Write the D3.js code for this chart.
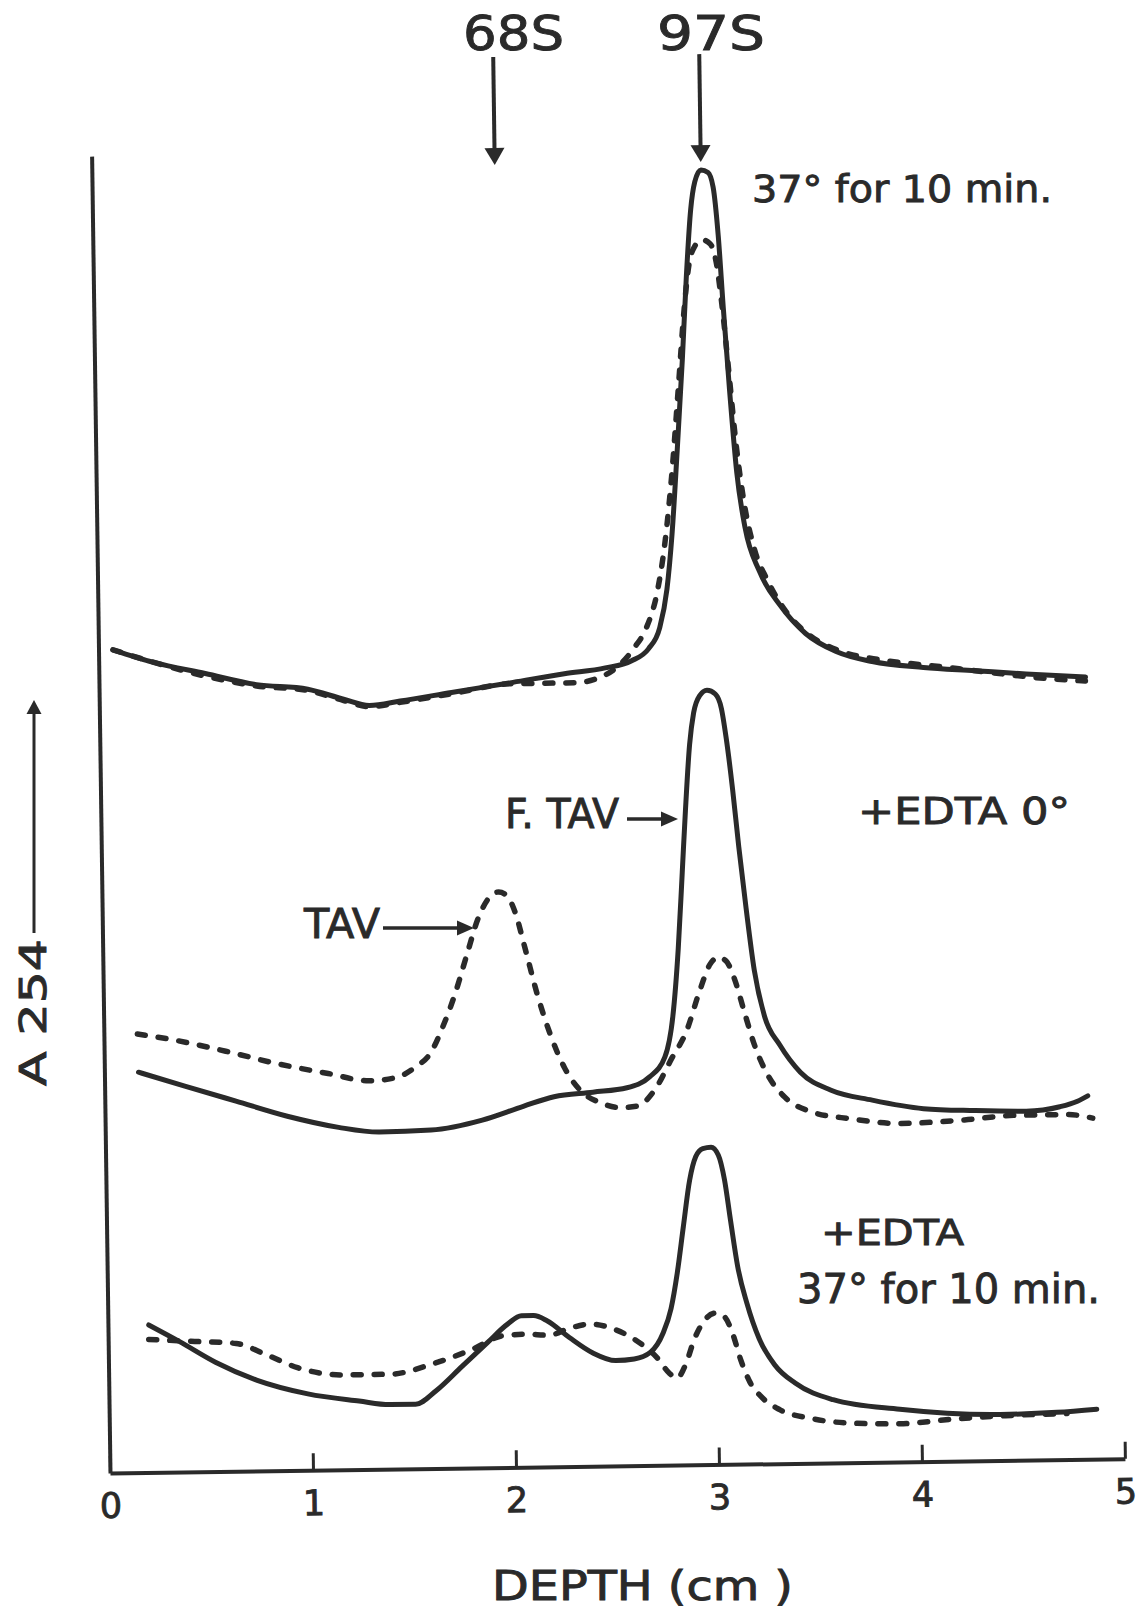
<!DOCTYPE html>
<html>
<head>
<meta charset="utf-8">
<script src="https://cdn.jsdelivr.net/npm/d3@7"></script>
<style>
  body { margin: 0; background: #fff; }
  text { font-family: "DejaVu Sans", sans-serif; fill: #2a2a2a; stroke: #2a2a2a; stroke-width: 0.9px; }
</style>
</head>
<body>
<svg id="chart" width="1145" height="1609"></svg>
<script>
// Sucrose-gradient profiles, A254 against depth (cm); values are [depth, absorbance (arbitrary units)]
const depthTicks = [0, 1, 2, 3, 4, 5];

// 37° for 10 min.
const top37Solid = [
  [0.071,62.5],[0.272,61.5],[0.524,60.6],[0.776,59.7],[1.028,59.3],[1.204,58.5],[1.331,58.0],
  [1.482,58.3],[1.736,58.9],[2.039,59.6],[2.293,60.2],[2.495,60.6],[2.623,61.1],[2.709,62.0],
  [2.766,63.6],[2.804,66.5],[2.833,70.7],[2.864,77.0],[2.896,84.0],[2.921,90.2],[2.947,95.3],
  [2.969,97.4],[3.000,98.3],[3.035,98.1],[3.059,97.0],[3.081,93.3],[3.101,87.8],[3.126,81.6],
  [3.156,75.3],[3.193,71.1],[3.260,67.8],[3.359,65.2],[3.484,63.0],[3.633,61.6],[3.810,60.8],
  [4.062,60.3],[4.315,60.0],[4.567,59.7],[4.860,59.4]
];
const top37Dashed = [
  [0.071,62.5],[0.272,61.5],[0.524,60.4],[0.776,59.6],[1.028,59.2],[1.204,58.4],[1.331,57.9],
  [1.482,58.2],[1.736,58.8],[2.039,59.5],[2.191,59.5],[2.343,59.5],[2.470,59.9],[2.557,60.7],
  [2.639,62.1],[2.700,63.6],[2.753,66.1],[2.797,70.0],[2.837,75.4],[2.873,81.6],[2.909,87.9],
  [2.938,91.4],[2.964,92.5],[3.000,93.0],[3.040,92.7],[3.069,91.3],[3.096,87.8],[3.123,83.1],
  [3.153,77.7],[3.190,73.0],[3.237,69.5],[3.299,67.1],[3.384,64.8],[3.509,62.8],[3.658,61.6],
  [3.861,60.9],[4.114,60.4],[4.365,59.9],[4.618,59.4],[4.859,59.1]
];

// +EDTA 0°
const edta0Solid = [
  [0.168,30.4],[0.395,29.3],[0.646,28.1],[0.898,26.9],[1.150,26.0],[1.351,25.6],[1.605,25.7],
  [1.858,26.4],[2.061,27.4],[2.213,28.1],[2.405,28.4],[2.573,28.7],[2.685,29.5],[2.762,31.0],
  [2.804,34.1],[2.835,39.2],[2.860,45.0],[2.880,49.7],[2.905,54.7],[2.927,57.1],[2.958,58.4],
  [2.994,58.8],[3.035,58.5],[3.064,57.4],[3.086,55.1],[3.114,51.2],[3.140,46.9],[3.172,42.2],
  [3.208,37.5],[3.255,34.0],[3.328,31.8],[3.428,29.7],[3.578,28.3],[3.780,27.5],[4.032,26.8],
  [4.285,26.6],[4.537,26.5],[4.704,26.8],[4.791,27.2],[4.842,27.6]
];
const edta0Dashed = [
  [0.165,33.3],[0.347,32.8],[0.599,31.9],[0.851,30.9],[1.102,30.1],[1.305,29.5],[1.431,29.7],
  [1.533,30.5],[1.610,31.6],[1.672,33.6],[1.730,35.9],[1.794,39.0],[1.851,41.7],[1.903,43.2],
  [1.954,43.7],[1.995,43.4],[2.035,42.1],[2.082,39.3],[2.139,35.8],[2.202,32.7],[2.266,30.3],
  [2.340,28.6],[2.440,27.6],[2.541,27.2],[2.622,27.3],[2.709,28.5],[2.796,30.9],[2.869,32.9],
  [2.938,36.0],[2.991,38.0],[3.031,38.5],[3.071,38.2],[3.111,36.8],[3.155,34.4],[3.202,31.9],
  [3.261,29.7],[3.351,27.8],[3.476,26.7],[3.677,26.1],[3.915,25.7],[4.233,25.9],[4.487,26.2],
  [4.739,26.2],[4.865,25.9]
];

// +EDTA, 37° for 10 min.
const edta37Solid = [
  [0.201,11.2],[0.352,9.9],[0.527,8.3],[0.728,6.9],[0.980,5.8],[1.232,5.2],[1.384,4.9],
  [1.510,4.9],[1.612,5.9],[1.740,7.7],[1.868,9.5],[1.970,10.9],[2.037,11.5],[2.097,11.5],
  [2.163,11.1],[2.272,9.8],[2.387,8.6],[2.499,8.0],[2.590,8.1],[2.671,8.6],[2.733,10.0],
  [2.775,11.9],[2.808,14.6],[2.841,18.1],[2.875,21.6],[2.907,23.4],[2.942,24.0],[2.983,24.1],
  [3.018,23.5],[3.047,21.6],[3.074,18.5],[3.106,15.0],[3.149,12.2],[3.207,9.5],[3.282,7.5],
  [3.381,6.1],[3.567,4.8],[3.895,4.0],[4.390,3.5],[4.668,3.6],[4.865,3.8]
];
const edta37Dashed = [
  [0.200,10.1],[0.427,9.9],[0.630,9.7],[0.780,8.8],[0.931,7.8],[1.158,7.2],[1.386,7.2],
  [1.588,7.9],[1.792,9.0],[1.944,10.0],[2.056,10.1],[2.172,10.0],[2.273,10.5],[2.375,10.8],
  [2.490,10.4],[2.601,9.5],[2.701,8.2],[2.761,7.0],[2.800,6.6],[2.842,7.6],[2.889,9.6],
  [2.941,11.0],[2.992,11.5],[3.038,11.2],[3.077,9.9],[3.115,7.9],[3.159,6.2],[3.213,5.1],
  [3.303,4.1],[3.455,3.4],[3.656,3.0],[3.894,2.9],[4.163,3.2],[4.415,3.4],[4.718,3.5]
];

// Sedimentation markers (depth in cm)
const markers = [
  { name: "68S", depth: 1.985, labelX: 463, labelW: 101 },
  { name: "97S", depth: 3.0,   labelX: 657, labelW: 108 }
];

const ink = "#2a2a2a";
const svg = d3.select("#chart");
svg.append("rect").attr("width", 1145).attr("height", 1609).attr("fill", "#fff");

const x = d3.scaleLinear().domain([0, 5]).range([0, 1015]);
const y = d3.scaleLinear().domain([0, 100]).range([0, -1317]);

// the whole drawing sits very slightly tilted on the page
const frame = svg.append("g").attr("transform", "translate(110,1473) rotate(-0.8)");

// y axis: plain line, no ticks
const yAxis = frame.append("g").call(d3.axisLeft(y).tickValues([]).tickSizeOuter(0));
yAxis.select(".domain").attr("stroke", ink).attr("stroke-width", 4);

// x axis with inward ticks
const xAxis = frame.append("g")
  .call(d3.axisBottom(x).tickValues(depthTicks).tickFormat(d3.format("d"))
    .tickSize(-17).tickPadding(20).tickSizeOuter(0));
xAxis.select(".domain").attr("stroke", ink).attr("stroke-width", 4);
xAxis.selectAll(".tick line").attr("stroke", ink).attr("stroke-width", 3);
xAxis.attr("font-family", null).attr("font-size", null);
xAxis.selectAll(".tick text")
  .attr("fill", ink).attr("font-size", 35)
  .attr("font-family", "'DejaVu Sans', sans-serif");

// profiles
const line = d3.line().x(d => x(d[0])).y(d => y(d[1])).curve(d3.curveMonotoneX);
const series = [
  { data: top37Solid, dashed: false },
  { data: edta0Solid, dashed: false },
  { data: edta37Solid, dashed: false },
  { data: top37Dashed, dashed: true },
  { data: edta0Dashed, dashed: true },
  { data: edta37Dashed, dashed: true }
];
frame.selectAll("path.profile").data(series).join("path")
  .attr("class", "profile")
  .attr("d", s => line(s.data))
  .attr("fill", "none")
  .attr("stroke", ink)
  .attr("stroke-width", s => s.dashed ? 5.5 : 5)
  .attr("stroke-linecap", "round")
  .attr("stroke-linejoin", "round")
  .attr("stroke-dasharray", s => s.dashed ? "8,13" : null);

// marker arrows pointing down at the peaks
const markerTop = 107.1, markerTip = 98.9;
const mg = frame.selectAll("g.marker").data(markers).join("g").attr("class", "marker");
mg.append("line")
  .attr("x1", d => x(d.depth)).attr("x2", d => x(d.depth))
  .attr("y1", y(markerTop)).attr("y2", y(markerTip) - 10)
  .attr("stroke", ink).attr("stroke-width", 4);
mg.append("path")
  .attr("d", d => {
    const px = x(d.depth), py = y(markerTip);
    return `M${px},${py} L${px - 10},${py - 17} L${px + 10},${py - 17} Z`;
  })
  .attr("fill", ink);

// marker labels
svg.selectAll("text.marker-label").data(markers).join("text")
  .attr("class", "marker-label")
  .attr("x", d => d.labelX).attr("y", 50)
  .attr("font-size", 48)
  .attr("textLength", d => d.labelW).attr("lengthAdjust", "spacingAndGlyphs")
  .text(d => d.name);

// condition labels
const notes = [
  { text: "37° for 10 min.", x: 752, y: 202, size: 37, w: 300 },
  { text: "+EDTA 0°",        x: 858, y: 824, size: 38, w: 212 },
  { text: "+EDTA",           x: 821, y: 1245, size: 35, w: 143 },
  { text: "37° for 10 min.", x: 797, y: 1303, size: 40, w: 303 },
  { text: "F. TAV",          x: 505, y: 828, size: 40, w: 114 },
  { text: "TAV",             x: 304, y: 938, size: 40, w: 76 }
];
svg.selectAll("text.note").data(notes).join("text")
  .attr("class", "note")
  .attr("x", d => d.x).attr("y", d => d.y)
  .attr("font-size", d => d.size)
  .attr("textLength", d => d.w).attr("lengthAdjust", "spacingAndGlyphs")
  .text(d => d.text);

// pointer arrows from the TAV labels
const pointers = [
  { x1: 627, x2: 678, y: 819 },
  { x1: 383, x2: 474, y: 928 }
];
const pg = svg.selectAll("g.pointer").data(pointers).join("g").attr("class", "pointer");
pg.append("line")
  .attr("x1", d => d.x1).attr("x2", d => d.x2 - 12)
  .attr("y1", d => d.y).attr("y2", d => d.y)
  .attr("stroke", ink).attr("stroke-width", 3.5);
pg.append("path")
  .attr("d", d => `M${d.x2},${d.y} L${d.x2 - 17},${d.y - 7.5} L${d.x2 - 17},${d.y + 7.5} Z`)
  .attr("fill", ink);

// axis titles
svg.append("text")
  .attr("x", 492).attr("y", 1600)
  .attr("font-size", 40)
  .attr("textLength", 301).attr("lengthAdjust", "spacingAndGlyphs")
  .text("DEPTH (cm )");

svg.append("text")
  .attr("transform", "translate(46,1086) rotate(-90)")
  .attr("font-size", 38)
  .attr("textLength", 147).attr("lengthAdjust", "spacingAndGlyphs")
  .text("A 254");

svg.append("line")
  .attr("x1", 34).attr("x2", 34).attr("y1", 933).attr("y2", 712)
  .attr("stroke", ink).attr("stroke-width", 3);
svg.append("path")
  .attr("d", "M34,700 L26.5,714 L41.5,714 Z")
  .attr("fill", ink);
</script>
</body>
</html>
